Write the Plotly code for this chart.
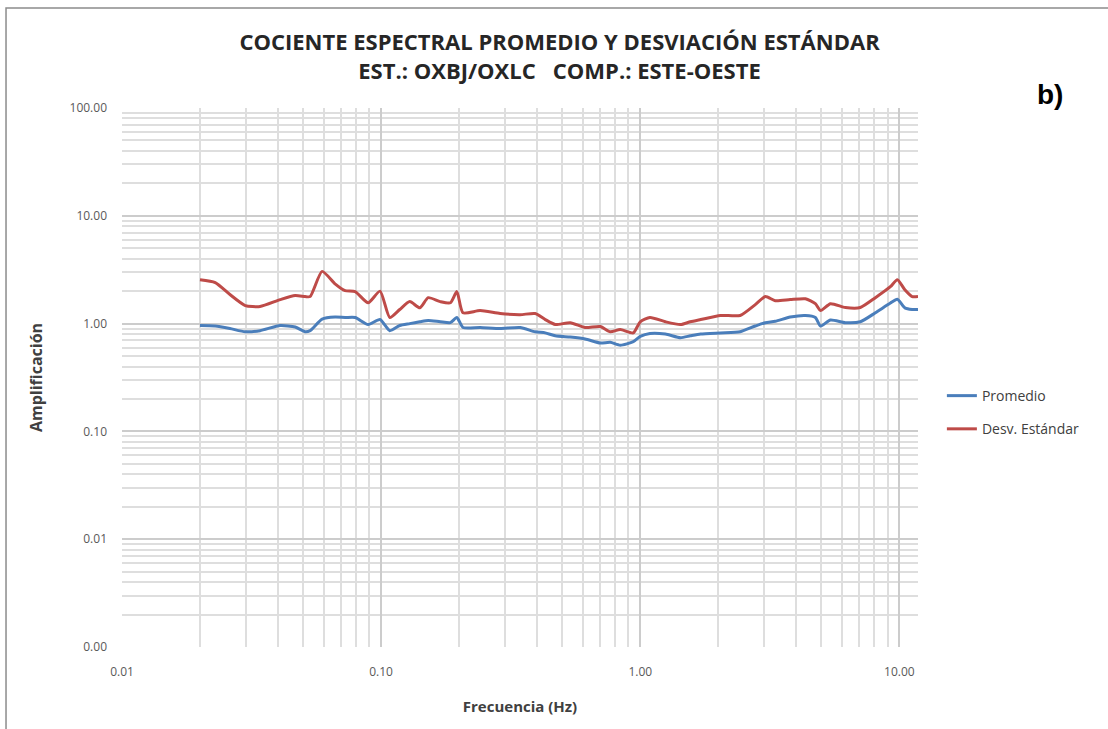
import numpy as np
import plotly.graph_objects as go

# frecuencias (Hz)
freq = [0.020, 0.0229, 0.0261, 0.0299, 0.0341, 0.0408, 0.0466, 0.0509, 0.0532, 0.0592,
        0.0664, 0.0726, 0.0794, 0.0891, 0.099, 0.108, 0.118, 0.129, 0.141, 0.152,
        0.169, 0.185, 0.196, 0.207, 0.241, 0.288, 0.344, 0.393, 0.430, 0.470,
        0.537, 0.613, 0.701, 0.766, 0.837, 0.940, 1.00, 1.09, 1.25, 1.43,
        1.56, 1.71, 2.04, 2.43, 2.78, 3.04, 3.32, 3.79, 4.34, 4.74,
        4.96, 5.42, 6.19, 7.07, 8.08, 9.23, 9.82, 10.5, 11.2, 11.8]

promedio = [0.96, 0.95, 0.90, 0.84, 0.86, 0.96, 0.93, 0.84, 0.86, 1.10,
            1.15, 1.14, 1.14, 0.98, 1.09, 0.86, 0.96, 1.00, 1.04, 1.07,
            1.04, 1.02, 1.14, 0.92, 0.92, 0.90, 0.92, 0.84, 0.82, 0.77,
            0.75, 0.72, 0.66, 0.67, 0.63, 0.68, 0.76, 0.81, 0.80, 0.74,
            0.77, 0.80, 0.82, 0.84, 0.95, 1.02, 1.05, 1.15, 1.19, 1.14,
            0.95, 1.08, 1.02, 1.04, 1.26, 1.55, 1.68, 1.40, 1.35, 1.35]

desv = [2.55, 2.40, 1.86, 1.47, 1.44, 1.67, 1.82, 1.78, 1.78, 3.05,
        2.34, 2.02, 1.98, 1.56, 2.00, 1.14, 1.35, 1.60, 1.40, 1.74,
        1.60, 1.56, 1.98, 1.26, 1.32, 1.24, 1.21, 1.24, 1.09, 0.98,
        1.02, 0.92, 0.94, 0.84, 0.88, 0.82, 1.04, 1.14, 1.04, 0.98,
        1.04, 1.09, 1.19, 1.19, 1.50, 1.78, 1.63, 1.67, 1.70, 1.53,
        1.32, 1.53, 1.41, 1.41, 1.74, 2.20, 2.55, 2.06, 1.78, 1.78]

x_ticks = [0.01, 0.1, 1, 10]
x_labels = ["0.01", "0.10", "1.00", "10.00"]
y_ticks = [0.001, 0.01, 0.1, 1, 10, 100]
y_labels = ["0.00", "0.01", "0.10", "1.00", "10.00", "100.00"]

x_minor = [k * 10.0**d for d in range(-2, 2) for k in range(2, 10)]
y_minor = [k * 10.0**d for d in range(-3, 2) for k in range(2, 10)]

fig = go.Figure()
fig.add_trace(go.Scatter(
    x=freq, y=promedio, mode="lines", name="Promedio", legendgroup="a",
    line=dict(color="#4a7ebb", width=3, shape="spline", smoothing=0.6),
))
fig.add_trace(go.Scatter(
    x=freq, y=desv, mode="lines", name="Desv. Estándar", legendgroup="b",
    line=dict(color="#be4b48", width=3, shape="spline", smoothing=0.6),
))

grid = "#dedede"
fig.update_layout(
    width=1108, height=729,
    margin=dict(l=122, r=190, t=108, b=82),
    paper_bgcolor="white", plot_bgcolor="white",
    font=dict(family="Open Sans, Liberation Sans", color="#404040"),
    title=dict(
        text="<b>COCIENTE ESPECTRAL PROMEDIO Y DESVIACIÓN ESTÁNDAR<br>EST.: OXBJ/OXLC   COMP.: ESTE-OESTE</b>",
        x=0.505, xanchor="center", y=0.931, yanchor="middle",
        font=dict(size=22, color="#262626", family="Open Sans"),
    ),
    xaxis=dict(
        type="log", range=[-2, np.log10(11.8)],
        tickmode="array", tickvals=x_ticks, ticktext=x_labels,
        showgrid=True, gridcolor="#cccccc", gridwidth=1.5,
        minor=dict(tickmode="array", tickvals=x_minor, showgrid=True,
                   gridcolor=grid, gridwidth=1.5),
        zeroline=False, showline=False, ticks="", ticklabelstandoff=16,
        tickfont=dict(size=12, color="#595959"),
        title=dict(text="<b>Frecuencia (Hz)</b>", font=dict(size=15, color="#404040"), standoff=22),
    ),
    yaxis=dict(
        type="log", range=[-3, 2],
        tickmode="array", tickvals=y_ticks, ticktext=y_labels,
        showgrid=True, gridcolor="#cccccc", gridwidth=1.5,
        minor=dict(tickmode="array", tickvals=y_minor, showgrid=True,
                   gridcolor=grid, gridwidth=1.5),
        zeroline=False, showline=False, ticks="", ticklabelstandoff=14,
        tickfont=dict(size=12, color="#595959"),
        title=dict(text="<b>Amplificación</b>", font=dict(size=16, color="#404040"), standoff=22),
    ),
    legend=dict(
        x=1.03, xanchor="left", y=0.435, yanchor="middle",
        font=dict(size=14, color="#404040"),
        traceorder="grouped", tracegroupgap=12,
        bgcolor="rgba(0,0,0,0)",
    ),
    showlegend=True,
)

fig.add_annotation(
    text="<b>b)</b>", xref="paper", yref="paper", x=1.166, y=1.025,
    xanchor="center", yanchor="middle", showarrow=False,
    font=dict(size=28, color="black", family="Liberation Sans"),
)

# marco del grafico
fig.add_shape(
    type="rect", xref="paper", yref="paper",
    x0=-0.1457, y0=-0.2, x1=1.4, y1=1.1855,
    line=dict(color="#8c8c8c", width=1.5),
)

fig.write_html("out.html", config={"displayModeBar": False},
               post_script="document.body.style.margin='0px';")
